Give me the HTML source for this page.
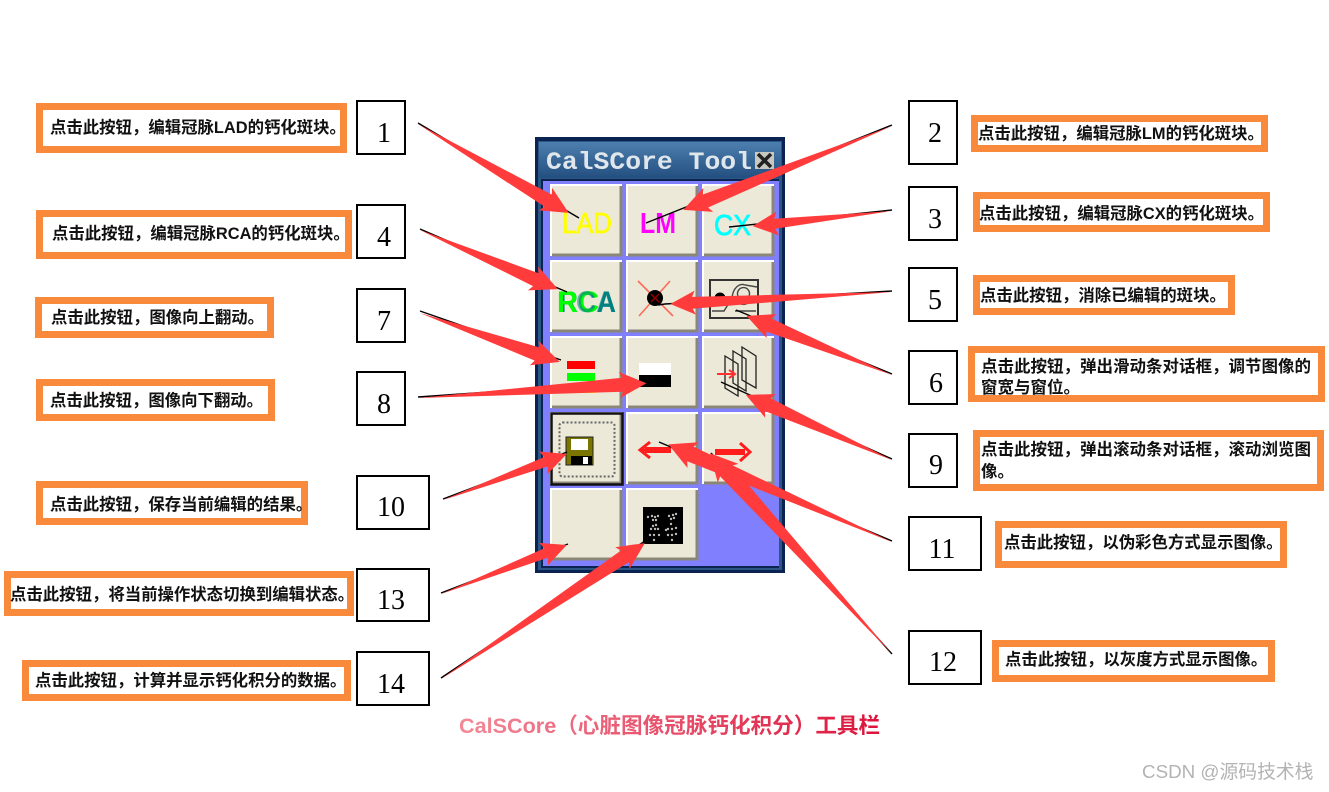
<!DOCTYPE html>
<html lang="zh"><head><meta charset="utf-8"><title>CalSCore 工具栏</title>
<style>
html,body{margin:0;padding:0;background:#fff}
svg{display:block}
.l{font:bold 16.4px "Liberation Sans","Noto Sans CJK SC",sans-serif;fill:#111}
.w{font-size:16.5px}
.n{font:28px "Liberation Serif",serif;fill:#000;text-anchor:middle}
.o{fill:#fff;stroke:#f98a3c;stroke-width:7}
.b{fill:#fff;stroke:#000;stroke-width:2}
.a{fill:#ff3b3b}
.k{stroke:#000;stroke-width:1.4;fill:none}
</style></head><body>
<svg width="1329" height="792" viewBox="0 0 1329 792" xmlns="http://www.w3.org/2000/svg">
<defs>
<linearGradient id="cap" x1="0" x2="1" y1="0" y2="0"><stop offset="0" stop-color="#f28a98"/><stop offset="1" stop-color="#dc143c"/></linearGradient>
<linearGradient id="tb" x1="0" x2="0" y1="0" y2="1"><stop offset="0" stop-color="#4d7fae"/><stop offset="1" stop-color="#234f80"/></linearGradient>
<g id="btn">
<rect x="0" y="0" width="71" height="71" fill="#ece9d8"/>
<path d="M0 71V0H71" fill="none" stroke="#fff" stroke-width="2"/>
<path d="M1 70H70V1" fill="none" stroke="#8a8778" stroke-width="3"/>
</g>
</defs>

<!-- toolbar -->
<rect x="535" y="137" width="250" height="436" fill="#0b2350"/>
<rect x="538" y="141" width="244" height="429" fill="#2a5585"/>
<rect x="539" y="142" width="242" height="36" fill="url(#tb)"/>
<rect x="541" y="179" width="238" height="389" fill="#0b2350"/>
<rect x="543" y="181" width="236" height="385" fill="#8080ff"/>
<text x="546" y="169" font-family="Liberation Mono" font-weight="bold" font-size="25" fill="#dfe6ec" textLength="206" lengthAdjust="spacingAndGlyphs">CalSCore Tool</text>
<rect x="755" y="152" width="19" height="17" fill="#c8c8c0"/>
<path d="M758 154L771 167M771 154L758 167" stroke="#222" stroke-width="3.5"/>

<use href="#btn" x="551" y="185"/><use href="#btn" x="627" y="185"/><use href="#btn" x="703" y="185"/>
<use href="#btn" x="551" y="261"/><use href="#btn" x="627" y="261"/><use href="#btn" x="703" y="261"/>
<use href="#btn" x="551" y="337"/><use href="#btn" x="627" y="337"/><use href="#btn" x="703" y="337"/>
<use href="#btn" x="551" y="413"/><use href="#btn" x="627" y="413"/><use href="#btn" x="703" y="413"/>
<use href="#btn" x="551" y="489"/><use href="#btn" x="627" y="489"/>
<rect x="551.5" y="413.5" width="71" height="71" fill="none" stroke="#111" stroke-width="2.5"/>

<!-- icons -->
<g font-family="Liberation Sans">
<text x="562" y="233" font-size="29" fill="#ffff00" stroke="#ffff00" stroke-width=".7" textLength="50" lengthAdjust="spacingAndGlyphs">LAD</text>
<text x="640" y="233" font-size="29" font-weight="bold" fill="#ff00ff" textLength="36" lengthAdjust="spacingAndGlyphs">LM</text>
<text x="714" y="235" font-size="29" fill="#00ffff" stroke="#00ffff" stroke-width=".8" textLength="37" lengthAdjust="spacingAndGlyphs">CX</text>
<text x="559" y="312" font-size="30" font-weight="bold" fill="#008080" textLength="57" lengthAdjust="spacingAndGlyphs">RCA</text>
<text x="557" y="312" font-size="30" font-weight="bold" fill="#00ff00" textLength="42" lengthAdjust="spacingAndGlyphs">RC</text>
<text x="576" y="312" font-size="30" font-weight="bold" fill="#008080" fill-opacity=".55" textLength="40" lengthAdjust="spacingAndGlyphs">CA</text>
</g>
<path d="M638 281L673 316M670 281L639 316" stroke="#ff6a5a" stroke-width="1.6"/>
<circle cx="655" cy="298" r="8" fill="#000"/><path d="M651 294L659 302M659 294L651 302" stroke="#900" stroke-width="1.5"/>
<rect x="710" y="280" width="48" height="38" fill="none" stroke="#333" stroke-width="2"/>
<circle cx="720" cy="298" r="5.5" fill="#000"/>
<path d="M712 311H724L732 298C733 287 740 283 745 285L757 287M738 296a6 6 0 1 0 11 0a6 6 0 1 0 -11 0M735 311H756" fill="none" stroke="#444" stroke-width="1.4"/>
<rect x="567" y="361" width="28" height="8" fill="#ff0000"/>
<rect x="567" y="373" width="28" height="8" fill="#00ff00"/>
<rect x="567" y="385" width="28" height="8" fill="#ffff00"/>
<rect x="639" y="363" width="32" height="12" fill="#fff"/>
<rect x="639" y="375" width="32" height="12" fill="#000"/>
<path d="M725 356L738 364V396L725 388ZM733 351L746 359V391L733 383ZM742 347L756 356V388L742 380Z" fill="none" stroke="#222" stroke-width="1.3"/>
<path d="M717 374H734M729 370L735 374L729 378" fill="none" stroke="#ff3030" stroke-width="2"/>
<rect x="559.5" y="422.5" width="55" height="54" rx="3" fill="none" stroke="#666" stroke-width="2" stroke-dasharray="2 2"/>
<rect x="566" y="437" width="27" height="28" fill="#7a7400" stroke="#222"/>
<rect x="571" y="439" width="17" height="11" fill="#fff"/>
<rect x="571" y="456" width="21" height="9" fill="#000"/>
<rect x="583" y="457" width="5" height="7" fill="#fff"/>
<path d="M671 450H642M650 442L640 450L650 458" fill="none" stroke="#ff1c1c" stroke-width="3"/>
<rect x="645" y="447" width="26" height="6" fill="#ff1c1c"/>
<rect x="715" y="449" width="30" height="6" fill="#ff1c1c"/>
<path d="M740 443L750 452L740 461" fill="none" stroke="#ff1c1c" stroke-width="3"/>
<rect x="643" y="507" width="40" height="37" fill="#000"/>
<g fill="#bbb">
<circle cx="648" cy="517" r="1.2"/><circle cx="652" cy="516" r="1.2"/><circle cx="655" cy="517" r="1.2"/><circle cx="658" cy="516" r="1.2"/><circle cx="653" cy="520" r="1.2"/><circle cx="656" cy="520" r="1.2"/>
<circle cx="669" cy="516" r="1.2"/><circle cx="673" cy="515" r="1.2"/><circle cx="676" cy="514" r="1.2"/><circle cx="671" cy="519" r="1.2"/><circle cx="674" cy="518" r="1.2"/>
<circle cx="653" cy="526" r="1.2"/><circle cx="656" cy="525" r="1.2"/><circle cx="651" cy="529" r="1.2"/><circle cx="655" cy="529" r="1.2"/><circle cx="658" cy="529" r="1.2"/>
<circle cx="671" cy="524" r="1.2"/><circle cx="668" cy="529" r="1.2"/><circle cx="672" cy="529" r="1.2"/><circle cx="676" cy="528" r="1.2"/><circle cx="666" cy="530" r="1.2"/>
<circle cx="650" cy="535" r="1.2"/><circle cx="654" cy="535" r="1.2"/><circle cx="659" cy="535" r="1.2"/><circle cx="654" cy="540" r="1.2"/><circle cx="668" cy="535" r="1.2"/><circle cx="672" cy="535" r="1.2"/><circle cx="676" cy="534" r="1.2"/><circle cx="672" cy="540" r="1.2"/>
</g>

<!-- black lines -->
<path class="k" d="M418 123L579 218M892 125L646 223M892 210L729 227M420 229L567 292M892 291L665 304L658 305M892 374L736 310M420 311L561 360M418 397L646 381M892 459L721 382M443 499L567 452M892 541L659 442M892 654L711 453M441 593L568 544M441 678L645 541"/>

<!-- red arrows -->
<g class="a">
<polygon transform="translate(418,124) rotate(30.5)" points="0,0 151,-7 148,-13 175,0 148,13 151,7"/>
<polygon transform="translate(892,126) rotate(158.1)" points="0,0 201,-7 198,-13 225,0 198,13 201,7"/>
<polygon transform="translate(892,211) rotate(173.8)" points="0,0 118,-5 115,-12 140,0 115,12 118,5"/>
<polygon transform="translate(420,230) rotate(23.2)" points="0,0 126,-7 123,-13 150,0 123,13 126,7"/>
<polygon transform="translate(892,292) rotate(176.9)" points="0,0 200,-6 197,-12 222,0 197,12 200,6"/>
<polygon transform="translate(892,375) rotate(202.1)" points="0,0 133,-7 130,-13 157,0 130,13 133,7"/>
<polygon transform="translate(420,313) rotate(19.3)" points="0,0 124,-7 121,-13 148,0 121,13 124,7"/>
<polygon transform="translate(418,398) rotate(-3.7)" points="0,0 205,-7 202,-13 229,0 202,13 205,7"/>
<polygon transform="translate(892,460) rotate(204)" points="0,0 136,-7 133,-13 160,0 133,13 136,7"/>
<polygon transform="translate(443,500) rotate(-20.4)" points="0,0 110,-5 107,-12 132,0 107,12 110,5"/>
<polygon transform="translate(892,542) rotate(203.6)" points="0,0 220,-8 217,-14 244,0 217,14 220,8"/>
<polygon transform="translate(892,654) rotate(227.8)" points="0,0 247,-8 244,-14 271,0 244,14 247,8"/>
<polygon transform="translate(441,594) rotate(-21.3)" points="0,0 113,-5 110,-12 135,0 110,12 113,5"/>
<polygon transform="translate(441,679) rotate(-33.7)" points="0,0 221,-7 218,-13 245,0 218,13 221,7"/>
</g>

<!-- number boxes -->
<rect class="b" x="357" y="101" width="48" height="53"/><text class="n" x="384" y="142">1</text>
<rect class="b" x="909" y="101" width="48" height="63"/><text class="n" x="935" y="142">2</text>
<rect class="b" x="909" y="187" width="48" height="53"/><text class="n" x="935" y="228">3</text>
<rect class="b" x="357" y="205" width="48" height="53"/><text class="n" x="384" y="246">4</text>
<rect class="b" x="909" y="268" width="48" height="53"/><text class="n" x="935" y="309">5</text>
<rect class="b" x="909" y="351" width="48" height="53"/><text class="n" x="936" y="392">6</text>
<rect class="b" x="357" y="289" width="48" height="53"/><text class="n" x="384" y="330">7</text>
<rect class="b" x="357" y="372" width="48" height="53"/><text class="n" x="384" y="413">8</text>
<rect class="b" x="909" y="434" width="48" height="53"/><text class="n" x="936" y="474">9</text>
<rect class="b" x="357" y="476" width="72" height="53"/><text class="n" x="391" y="516">10</text>
<rect class="b" x="909" y="517" width="72" height="53"/><text class="n" x="942" y="558">11</text>
<rect class="b" x="909" y="631" width="72" height="53"/><text class="n" x="943" y="671">12</text>
<rect class="b" x="357" y="569" width="72" height="52"/><text class="n" x="391" y="609">13</text>
<rect class="b" x="357" y="652" width="72" height="53"/><text class="n" x="391" y="693">14</text>

<!-- labels -->
<rect class="o" x="39.5" y="106.5" width="304" height="43"/><text class="l" x="50" y="133">点击此按钮，编辑冠脉LAD的钙化斑块。</text>
<rect class="o" x="39.5" y="213.5" width="309" height="42"/><text class="l" x="52" y="239">点击此按钮，编辑冠脉RCA的钙化斑块。</text>
<rect class="o" x="38.5" y="300.5" width="232" height="34"/><text class="l" x="51" y="323">点击此按钮，图像向上翻动。</text>
<rect class="o" x="39.5" y="382.5" width="232" height="35"/><text class="l" x="50" y="406">点击此按钮，图像向下翻动。</text>
<rect class="o" x="39.5" y="484.5" width="265" height="37"/><text class="l" x="50" y="510">点击此按钮，保存当前编辑的结果。</text>
<rect class="o" x="7.5" y="574.5" width="343" height="38"/><text class="l" x="10" y="600">点击此按钮，将当前操作状态切换到编辑状态。</text>
<rect class="o" x="25.5" y="663.5" width="322" height="34"/><text class="l" x="35" y="686">点击此按钮，计算并显示钙化积分的数据。</text>

<rect class="o" x="974.5" y="118.5" width="290" height="30"/><text class="l" x="978" y="139">点击此按钮，编辑冠脉LM的钙化斑块。</text>
<rect class="o" x="976.5" y="195.5" width="290" height="33"/><text class="l" x="979" y="219">点击此按钮，编辑冠脉CX的钙化斑块。</text>
<rect class="o" x="976.5" y="278.5" width="255" height="33"/><text class="l" x="980" y="301">点击此按钮，消除已编辑的斑块。</text>
<rect class="o" x="971.5" y="349.5" width="350" height="49"/>
<text class="l w" x="981" y="372">点击此按钮，弹出滑动条对话框，调节图像的</text><text class="l w" x="981" y="393">窗宽与窗位。</text>
<rect class="o" x="976.5" y="433.5" width="344" height="54"/>
<text class="l w" x="981" y="455">点击此按钮，弹出滚动条对话框，滚动浏览图</text><text class="l w" x="981" y="477">像。</text>
<rect class="o" x="998.5" y="524.5" width="285" height="40"/><text class="l" x="1004" y="548">点击此按钮，以伪彩色方式显示图像。</text>
<rect class="o" x="995.5" y="643.5" width="276" height="35"/><text class="l" x="1005" y="665">点击此按钮，以灰度方式显示图像。</text>

<text x="459" y="733" font-family="Liberation Sans,Noto Sans CJK SC,sans-serif" font-weight="bold" font-size="21.6" fill="url(#cap)">CalSCore（心脏图像冠脉钙化积分）工具栏</text>
<text x="1142" y="778" font-family="Liberation Sans,Noto Sans CJK SC,sans-serif" font-size="18.8" fill="#b3b3b3">CSDN @源码技术栈</text>
</svg>
</body></html>
